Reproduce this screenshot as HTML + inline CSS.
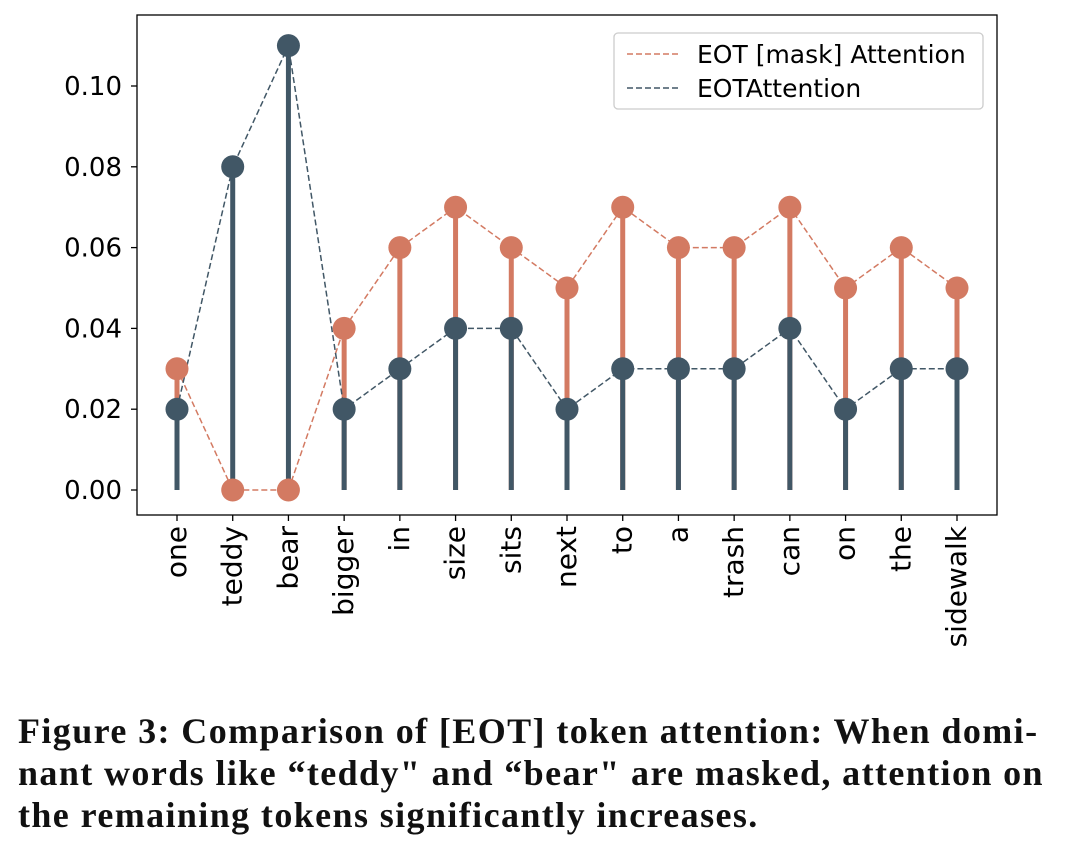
<!DOCTYPE html>
<html><head><meta charset="utf-8"><style>
body{margin:0;background:#fff;width:1080px;height:867px;overflow:hidden}
#cap{position:absolute;left:18px;top:710px;width:1060px;font-family:"Liberation Serif",serif;font-weight:bold;font-size:36px;letter-spacing:1.4px;line-height:42px;color:#111;white-space:nowrap}
</style></head><body>
<svg id="chart" width="1080" height="700" style="position:absolute;left:0;top:0" font-family="DejaVu Sans, sans-serif"></svg>
<div id="cap">Figure 3: Comparison of [EOT] token attention: When domi-<br>nant words like “teddy" and “bear" are masked, attention on<br>the remaining tokens significantly increases.</div>
<script>
const categories=["one","teddy","bear","bigger","in","size","sits","next","to","a","trash","can","on","the","sidewalk"];
const maskValues=[0.03,0,0,0.04,0.06,0.07,0.06,0.05,0.07,0.06,0.06,0.07,0.05,0.06,0.05];
const eotValues=[0.02,0.08,0.11,0.02,0.03,0.04,0.04,0.02,0.03,0.03,0.03,0.04,0.02,0.03,0.03];
const yTicks=[0,0.02,0.04,0.06,0.08,0.10];
const yTickLabels=["0.00","0.02","0.04","0.06","0.08","0.10"];
const NS="http://www.w3.org/2000/svg";
const svg=document.getElementById('chart');
const X=i=>177+i*(957-177)/(categories.length-1);
const Y=v=>490-v*4040;
const OR="#d37a62",DK="#415766";
function mk(t,a,p){const e=document.createElementNS(NS,t);for(const k in a)e.setAttribute(k,a[k]);(p||svg).appendChild(e);return e;}
const frame=mk('rect',{x:137,y:15,width:860,height:500,fill:'none',stroke:'#000','stroke-width':1.3});


yTicks.forEach((v,i)=>{
 const t=mk('line',{x1:131,x2:137,y1:Y(v),y2:Y(v),stroke:'#000','stroke-width':1.3});
 
 
 const l=mk('text',{x:122,y:Y(v)+9,'text-anchor':'end','font-size':26,fill:'#000'});l.textContent=yTickLabels[i];
 
 
});
categories.forEach((c,i)=>{
 const t=mk('line',{x1:X(i),x2:X(i),y1:515,y2:521,stroke:'#000','stroke-width':1.3});
 
 
 const l=mk('text',{transform:`translate(${X(i)+9},526) rotate(-90)`,'text-anchor':'end','font-size':28,fill:'#000'});l.textContent=c;
 
 
});
function stems(vals,col,name){vals.forEach((v,i)=>{const s=mk('line',{x1:X(i),x2:X(i),y1:Y(0),y2:Y(v),stroke:col,'stroke-width':5});
 
 });}
function dline(vals,col,name){const p=mk('polyline',{points:vals.map((v,i)=>X(i)+','+Y(v)).join(' '),fill:'none',stroke:col,'stroke-width':1.5,'stroke-dasharray':'6,3'});
 
 }
function dots(vals,col,name){vals.forEach((v,i)=>{const d=mk('circle',{cx:X(i),cy:Y(v),r:11.5,fill:col});
 
 });}
stems(maskValues,OR,'mask-stem');
dline(maskValues,OR,'mask-line');
stems(eotValues,DK,'eot-stem');
dline(eotValues,DK,'eot-line');
dots(maskValues,OR,'mask-point');
dots(eotValues,DK,'eot-point');
const lg=mk('g',{});


mk('rect',{x:614,y:33,width:369,height:76,rx:4,fill:'#fff',stroke:'#ccc','stroke-width':1.3},lg);
mk('line',{x1:627,x2:680,y1:54,y2:54,stroke:OR,'stroke-width':1.5,'stroke-dasharray':'6,3'},lg);
mk('line',{x1:627,x2:680,y1:88,y2:88,stroke:DK,'stroke-width':1.5,'stroke-dasharray':'6,3'},lg);
const t1=mk('text',{x:697,y:63,'font-size':25},lg);t1.textContent="EOT [mask] Attention";


const t2=mk('text',{x:697,y:97,'font-size':25},lg);t2.textContent="EOTAttention";


</script>
</body></html>
